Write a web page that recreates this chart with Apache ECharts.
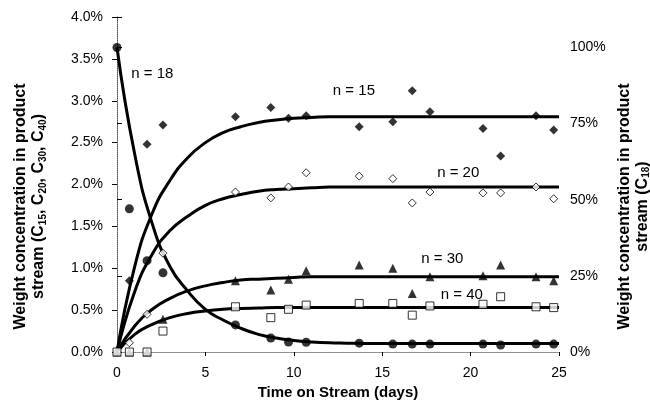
<!DOCTYPE html>
<html>
<head>
<meta charset="utf-8">
<script src="https://cdn.jsdelivr.net/npm/echarts@6/dist/echarts.min.js"></script>
<style>
  html, body { margin: 0; padding: 0; background: #fff; }
  #chart { width: 650px; height: 408px; }
</style>
</head>
<body>
<div id="chart"></div>
<script>
// sampling times (days)
var sampleDays = [0, 0.7, 1.7, 2.6, 6.7, 8.7, 9.7, 10.7, 13.7, 15.6, 16.7, 17.7, 20.7, 21.7, 23.7, 24.7];
// measured weight %, left axis
var c15 = [0, 0.85, 2.48, 2.71, 2.81, 2.92, 2.79, 2.82, 2.69, 2.75, 3.12, 2.87, 2.67, 2.34, 2.82, 2.65];
var c20 = [0, 0.11, 0.45, 1.18, 1.91, 1.84, 1.97, 2.14, 2.10, 2.07, 1.78, 1.91, 1.90, 1.90, 1.97, 1.83];
var c30 = [0, 0, 0, 0.39, 0.85, 0.74, 0.87, 0.97, 1.04, 1.00, 0.70, 0.90, 0.91, 1.04, 0.90, 0.85];
var c40 = [0, 0, 0, 0.25, 0.54, 0.41, 0.51, 0.56, 0.58, 0.58, 0.44, 0.55, 0.57, 0.66, 0.54, 0.53];
// C18, right axis (%)
var c18 = [100, 47, 30, 26, 8.9, 4.6, 3.3, 3.2, 2.9, 2.6, 2.6, 2.6, 2.6, 2.3, 2.6, 2.6];

// fitted curves
var fitDays = [0, 1, 2, 3, 4, 5, 6, 7, 8, 9, 10, 11, 12, 13, 14, 15, 16, 17, 18, 19, 20, 21, 22, 23, 24, 25];
var fit15 = [0, 1.02, 1.66, 2.05, 2.32, 2.50, 2.62, 2.69, 2.74, 2.77, 2.79, 2.80, 2.81, 2.81, 2.81, 2.81, 2.81, 2.81, 2.81, 2.81, 2.81, 2.81, 2.81, 2.81, 2.81, 2.81];
var fit20 = [0, 0.72, 1.17, 1.45, 1.62, 1.75, 1.83, 1.88, 1.92, 1.94, 1.95, 1.96, 1.97, 1.97, 1.97, 1.97, 1.97, 1.97, 1.97, 1.97, 1.97, 1.97, 1.97, 1.97, 1.97, 1.97];
var fit30 = [0, 0.31, 0.51, 0.64, 0.73, 0.79, 0.83, 0.86, 0.87, 0.88, 0.89, 0.90, 0.90, 0.90, 0.90, 0.90, 0.90, 0.90, 0.90, 0.90, 0.90, 0.90, 0.90, 0.90, 0.90, 0.90];
var fit40 = [0, 0.21, 0.33, 0.41, 0.46, 0.49, 0.51, 0.52, 0.525, 0.53, 0.53, 0.53, 0.53, 0.53, 0.53, 0.53, 0.53, 0.53, 0.53, 0.53, 0.53, 0.53, 0.53, 0.53, 0.53, 0.53];
var fit18 = [100, 65, 42, 28, 20, 14, 10.5, 7.8, 5.8, 4.6, 3.8, 3.3, 3.0, 2.9, 2.8, 2.8, 2.8, 2.8, 2.8, 2.8, 2.8, 2.8, 2.8, 2.8, 2.8, 2.8];

var font = 'Liberation Sans, Arial, sans-serif';

function pairs (xs, ys) {
  return xs.map(function (x, i) { return [x, ys[i]]; });
}

function curve (name, ys, yAxisIndex, label, at) {
  return {
    name: name,
    type: 'line',
    yAxisIndex: yAxisIndex,
    data: pairs(fitDays, ys),
    smooth: 0.5,
    showSymbol: false,
    silent: true,
    z: 2,
    lineStyle: { color: '#000', width: 3 },
    markPoint: {
      symbol: 'circle',
      symbolSize: 0,
      silent: true,
      data: [{ coord: at }],
      label: {
        show: true,
        position: 'inside',
        formatter: label,
        color: '#000',
        fontSize: 15,
        fontFamily: font
      }
    }
  };
}

function dots (name, ys, yAxisIndex, symbol, size, filled) {
  return {
    name: name,
    type: 'scatter',
    yAxisIndex: yAxisIndex,
    data: pairs(sampleDays, ys),
    symbol: symbol,
    symbolSize: size,
    z: 3,
    itemStyle: filled
      ? { color: '#000' }
      : { color: '#fff', borderColor: '#000', borderWidth: 1 }
  };
}

var titleRich = {
  b: { color: '#000', fontSize: 16, fontWeight: 'bold', fontFamily: font, lineHeight: 18 },
  s: { color: '#000', fontSize: 10, fontWeight: 'bold', fontFamily: font, lineHeight: 10, verticalAlign: 'bottom' }
};

var chart = echarts.init(document.getElementById('chart'));

var option = {
  backgroundColor: '#fff',
  animation: false,
  grid: { left: 117, right: 91, top: 17, bottom: 56, outerBoundsMode: 'none' },
  xAxis: [{
    type: 'value',
    min: 0,
    max: 25,
    interval: 5,
    axisLine: { show: true, lineStyle: { color: '#888', type: 'dotted', width: 1 } },
    axisTick: { show: true, length: 4, lineStyle: { color: '#000' } },
    splitLine: { show: false },
    axisLabel: { color: '#000', fontSize: 14, fontFamily: font, margin: 14 },
    name: 'Time on Stream (days)',
    nameLocation: 'middle',
    nameGap: 33,
    nameTextStyle: { color: '#000', fontSize: 15, fontWeight: 'bold', fontFamily: font }
  }, {
    type: 'value',
    position: 'top',
    min: 0,
    max: 25,
    axisLine: { show: true, lineStyle: { color: '#888', type: 'dotted', width: 1 } },
    axisTick: { show: false },
    axisLabel: { show: false },
    splitLine: { show: false }
  }],
  yAxis: [{
    type: 'value',
    min: 0,
    max: 4,
    interval: 0.5,
    axisLine: { show: true, lineStyle: { color: '#000', width: 1 } },
    axisTick: { show: true, length: 5, lineStyle: { color: '#000' } },
    splitLine: { show: false },
    axisLabel: {
      color: '#000', fontSize: 14, fontFamily: font, margin: 14,
      formatter: function (v) { return v.toFixed(1) + '%'; }
    },
    name: '{b|Weight concentration in product}\n{b|stream (C}{s|15}{b|, C}{s|20}{b|, C}{s|30}{b|, C}{s|40}{b|)}',
    nameLocation: 'middle',
    nameRotate: 90,
    nameGap: 69,
    nameTextStyle: { padding: [0, 44, 0, 0], rich: titleRich }
  }, {
    type: 'value',
    position: 'right',
    min: 0,
    max: 110,
    interval: 25,
    axisLine: { show: true, lineStyle: { color: '#888', type: 'dotted', width: 1 } },
    axisTick: { show: true, length: 5, lineStyle: { color: '#000' } },
    splitLine: { show: false },
    axisLabel: {
      color: '#000', fontSize: 14, fontFamily: font, margin: 11,
      formatter: function (v) { return v > 100 ? '' : v + '%'; }
    },
    name: '{b|Weight concentration in product}\n{b|stream (C}{s|18}{b|)}',
    nameLocation: 'middle',
    nameRotate: 90,
    nameGap: 52,
    nameTextStyle: { padding: [0, 44, 0, 0], rich: titleRich }
  }],
  series: [
    curve('fit C18', fit18, 1, 'n = 18', [2.0, 91.4]),
    curve('fit C15', fit15, 0, 'n = 15', [13.4, 3.12]),
    curve('fit C20', fit20, 0, 'n = 20', [19.3, 2.14]),
    curve('fit C30', fit30, 0, 'n = 30', [18.4, 1.11]),
    curve('fit C40', fit40, 0, 'n = 40', [19.5, 0.68]),
    dots('C18', c18, 1, 'circle', 9, true),
    dots('C15', c15, 0, 'diamond', 9, true),
    dots('C20', c20, 0, 'diamond', 8, false),
    dots('C30', c30, 0, 'triangle', 9, true),
    dots('C40', c40, 0, 'rect', 8, false)
  ]
};

chart.setOption(option);
</script>
</body>
</html>
